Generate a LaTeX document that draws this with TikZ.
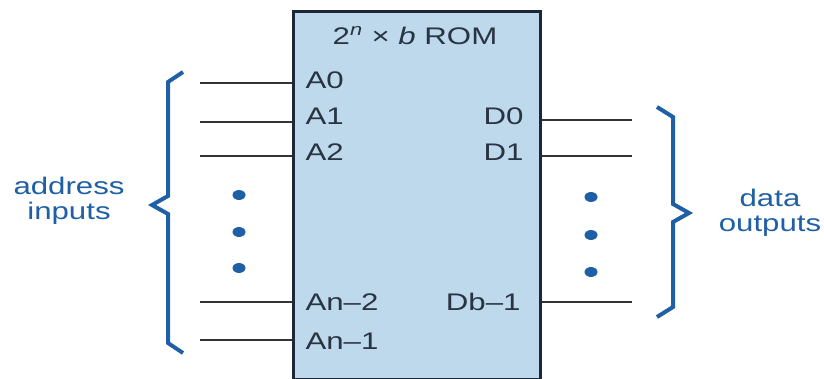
\documentclass[tikz,border=0pt]{standalone}
\usepackage{fontspec}
\setmainfont{Liberation Sans}
\usetikzlibrary{shapes.geometric}
\definecolor{romfill}{RGB}{190,216,236}
\definecolor{romedge}{RGB}{28,40,58}
\definecolor{bracecol}{RGB}{30,95,165}
\definecolor{pintext}{RGB}{40,52,66}
% letters in this drawing are set a little wide
\newcommand{\wide}[1]{\scalebox{1.3}[1]{#1}}
\begin{document}
\begin{tikzpicture}
[x=1pt, y=-1pt, line width=1pt,
pinline/.style={draw=black!80, line width=1.4pt},
pinlabel/.style={inner sep=0pt, text=pintext, font=\fontsize{24}{28}\selectfont},
dot/.style={ellipse, fill=bracecol, inner sep=0pt, minimum width=13pt, minimum height=10pt},
brace/.style={draw=bracecol, line width=4pt, line join=miter},
sidetext/.style={align=center, text=bracecol, font=\fontsize{24}{25}\selectfont}]

\useasboundingbox (0,0) rectangle (824,379);

% the ROM block
\node[draw=romedge, line width=2.8pt, fill=romfill, minimum width=247pt, minimum height=368pt, anchor=north west] (rom) at (292,10) {};
\node[pinlabel, anchor=base] (title) at (415,45) {\wide{2\textsuperscript{\textit{n}} × \textit{b} ROM}};

% address pins
\node[pinlabel, anchor=base west] (a0) at (305,89) {\wide{A0}};
\node[pinlabel, anchor=base west] (a1) at (305,125) {\wide{A1}};
\node[pinlabel, anchor=base west] (a2) at (305,161) {\wide{A2}};
\node[pinlabel, anchor=base west] (an2) at (305,310) {\wide{An\textendash 2}};
\node[pinlabel, anchor=base west] (an1) at (305,349) {\wide{An\textendash 1}};

% data pins
\node[pinlabel, anchor=base east] (d0) at (524,125) {\wide{D0}};
\node[pinlabel, anchor=base east] (d1) at (524,161) {\wide{D1}};
\node[pinlabel, anchor=base east] (db1) at (521,310) {\wide{Db\textendash 1}};

\coordinate (in0) at (200,83);
\coordinate (in1) at (200,122);
\coordinate (in2) at (200,156);
\coordinate (in3) at (200,302);
\coordinate (in4) at (200,340);
\coordinate (out0) at (632,120);
\coordinate (out1) at (632,156);
\coordinate (out2) at (632,302);

\draw[pinline] (in0) -- (rom.west |- in0);
\draw[pinline] (in1) -- (rom.west |- in1);
\draw[pinline] (in2) -- (rom.west |- in2);
\draw[pinline] (in3) -- (rom.west |- in3);
\draw[pinline] (in4) -- (rom.west |- in4);
\draw[pinline] (rom.east |- out0) -- (out0);
\draw[pinline] (rom.east |- out1) -- (out1);
\draw[pinline] (rom.east |- out2) -- (out2);

% vertical ellipsis dots
\node[dot] (ldot1) at (239,195) {};
\node[dot] (ldot2) at (239,232) {};
\node[dot] (ldot3) at (239,268) {};
\node[dot] (rdot1) at (591,197) {};
\node[dot] (rdot2) at (591,235) {};
\node[dot] (rdot3) at (591,272) {};

% braces
\draw[brace] (183,72) -- (168,82) -- (168,196) -- (152,205) -- (168,214) -- (168,343) -- (183,353);
\draw[brace] (657,107) -- (673,117) -- (673,204) -- (689,213) -- (673,222) -- (673,307) -- (657,317);

\node[sidetext] (addr) at (69,201) {\wide{address}\\\wide{inputs}};
\node[sidetext] (data) at (770,213) {\wide{data}\\\wide{outputs}};
\end{tikzpicture}
\end{document}
